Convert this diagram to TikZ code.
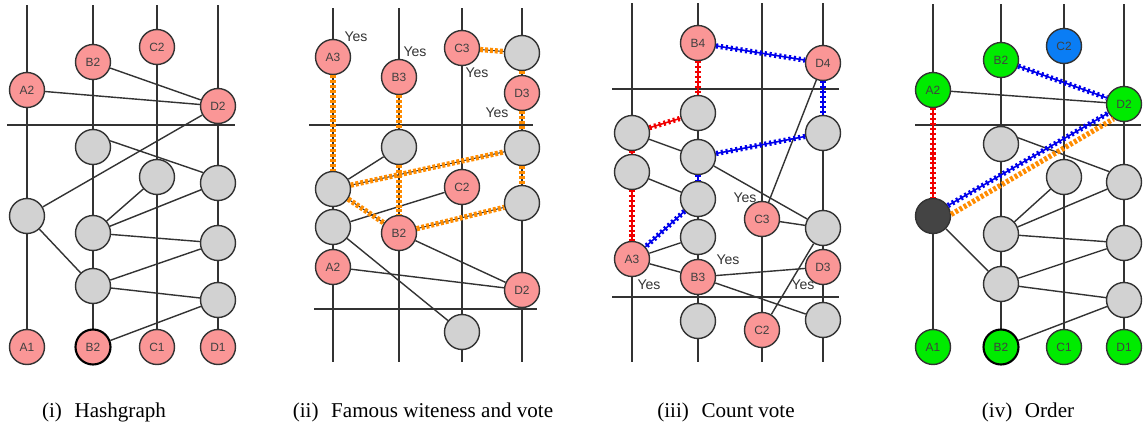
\documentclass[tikz,border=0pt]{standalone}
\usepackage{fontspec}
\setmainfont{Liberation Serif}
\setsansfont{Liberation Sans}
\usetikzlibrary{backgrounds}

\definecolor{evred}{RGB}{250,150,150}
\definecolor{evgray}{RGB}{210,210,210}
\definecolor{evgreen}{RGB}{0,235,0}
\definecolor{evblue}{RGB}{10,125,245}
\definecolor{evdark}{RGB}{68,68,68}
\definecolor{edgec}{RGB}{51,51,51}
\definecolor{vorange}{RGB}{255,140,0}
\definecolor{vred}{RGB}{240,0,0}
\definecolor{vblue}{RGB}{0,0,235}

\tikzset{
  event/.style={circle, draw=edgec, line width=0.8pt, minimum size=0.7cm, inner sep=0pt,
    font=\sffamily\fontsize{6.8}{8}\selectfont, text=black!75},
  redev/.style={event, fill=evred},
  grayev/.style={event, fill=evgray},
  greenev/.style={event, fill=evgreen},
  firstev/.style={draw=black, line width=1.2pt},
  link/.style={draw=edgec, line width=0.8pt},
  vote/.style={draw=#1, line width=0.9pt,
    postaction={draw=#1, line width=3pt, dash pattern=on 1.2pt off 1.6pt}},
  ovote/.style={draw=edgec, line width=0.6pt,
    postaction={draw=vorange, line width=3pt, dash pattern=on 1.7pt off 1.1pt}},
  yes/.style={font=\sffamily\fontsize{8}{9}\selectfont, text=edgec},
  caption/.style={anchor=base, font=\fontsize{12}{14}\selectfont},
}

\begin{document}
\begin{tikzpicture}[x=0.02cm, y=-0.02cm]
  \useasboundingbox (0,0) rectangle (1146,426);

  % (i) hashgraph
  \begin{scope}[name prefix=h-]
    \node[redev] (a2) at (27,90) {A2};
    \node[redev] (b2) at (93,62) {B2};
    \node[redev] (c2) at (157,47) {C2};
    \node[redev] (d2) at (218,106) {D2};
    \node[grayev] (bx) at (93,147) {};
    \node[grayev] (cx) at (157,177) {};
    \node[grayev] (dx) at (218,183) {};
    \node[grayev] (ax) at (27,216) {};
    \node[grayev] (by) at (93,233) {};
    \node[grayev] (dy) at (218,243) {};
    \node[grayev] (bz) at (93,286) {};
    \node[grayev] (dz) at (218,300) {};
    \node[redev] (a1) at (27,347) {A1};
    \node[redev, firstev] (b1) at (93,347) {B2};
    \node[redev] (c1) at (157,347) {C1};
    \node[redev] (d1) at (218,347) {D1};
    \coordinate (ta) at (27,5);
    \coordinate (tb) at (93,5);
    \coordinate (tc) at (157,5);
    \coordinate (td) at (218,5);
    \coordinate (rl) at (7,125);
    \coordinate (rr) at (235,125);
    \begin{pgfonlayer}{background}
      \draw[link] (ta) -- (a1.center);
      \draw[link] (tb) -- (b1.center);
      \draw[link] (tc) -- (c1.center);
      \draw[link] (td) -- (d1.center);
      \draw[link] (rl) -- (rr);
      \draw[link] (b2) -- (d2);
      \draw[link] (a2) -- (d2);
      \draw[link] (d2) -- (ax);
      \draw[link] (bx.20) -- (dx.145);
      \draw[link] (cx) -- (by);
      \draw[link] (dx) -- (by);
      \draw[link] (by) -- (dy);
      \draw[link] (ax) -- (bz);
      \draw[link] (bz) -- (dy);
      \draw[link] (bz) -- (dz);
      \draw[link] (dz) -- (b1);
    \end{pgfonlayer}
  \end{scope}

  % (ii) famous witnesses and their votes
  \begin{scope}[name prefix=f-]
    \node[redev] (a3) at (333,57) {A3};
    \node[redev] (b3) at (399,77) {B3};
    \node[redev] (c3) at (462,48) {C3};
    \node[grayev] (dw) at (522,53) {};
    \node[redev] (d3) at (522,93) {D3};
    \node[grayev] (bx) at (399,147) {};
    \node[grayev] (dx) at (522,148) {};
    \node[grayev] (ax) at (333,189) {};
    \node[redev] (c2) at (462,187) {C2};
    \node[grayev] (dy) at (522,203) {};
    \node[grayev] (ay) at (333,227) {};
    \node[redev] (b2) at (399,233) {B2};
    \node[redev] (a2) at (333,267) {A2};
    \node[redev] (d2) at (522,290) {D2};
    \node[grayev] (cx) at (462,332) {};
    \node[yes] (y1) at (356,37) {Yes};
    \node[yes] (y2) at (415,52) {Yes};
    \node[yes] (y3) at (477,73) {Yes};
    \node[yes] (y4) at (497,113) {Yes};
    \coordinate (ta) at (333,8);
    \coordinate (tb) at (399,8);
    \coordinate (tc) at (462,8);
    \coordinate (td) at (522,8);
    \coordinate (ba) at (333,362);
    \coordinate (bb) at (399,362);
    \coordinate (bc) at (462,362);
    \coordinate (bd) at (522,362);
    \coordinate (rl) at (309,125);
    \coordinate (rr) at (533,125);
    \coordinate (sl) at (314,309);
    \coordinate (sr) at (537,309);
    \begin{pgfonlayer}{background}
      \draw[link] (ta) -- (ba);
      \draw[link] (tb) -- (bb);
      \draw[link] (tc) -- (bc);
      \draw[link] (td) -- (bd);
      \draw[link] (rl) -- (rr);
      \draw[link] (sl) -- (sr);
      \draw[link] (ax) -- (bx);
      \draw[link] (ay) -- (c2);
      \draw[link] (ay) -- (cx);
      \draw[link] (b2) -- (d2);
      \draw[link] (a2) -- (d2);
    \end{pgfonlayer}
    % strongly seen paths
    \draw[ovote] (a3) -- (ax);
    \draw[ovote] (b3) -- (bx);
    \draw[ovote] (bx) -- (b2);
    \draw[ovote] (c3) -- (dw);
    \draw[ovote] (dw) -- (d3);
    \draw[ovote] (d3) -- (dx);
    \draw[ovote] (dx) -- (dy);
    \draw[ovote] (ax) -- (dx);
    \draw[ovote] (ax) -- (b2);
    \draw[ovote] (b2) -- (dy);
  \end{scope}

  % (iii) counting the votes
  \begin{scope}[name prefix=c-]
    \node[redev] (b4) at (698,43) {B4};
    \node[redev] (d4) at (823,63) {D4};
    \node[grayev] (bw) at (698,113) {};
    \node[grayev] (aw) at (632,133) {};
    \node[grayev] (dw) at (823,133) {};
    \node[grayev] (bx) at (698,157) {};
    \node[grayev] (ax) at (632,172) {};
    \node[grayev] (by) at (698,199) {};
    \node[redev] (c3) at (762,219) {C3};
    \node[grayev] (dx) at (823,228) {};
    \node[grayev] (bz) at (698,237) {};
    \node[redev] (a3) at (632,259) {A3};
    \node[redev] (b3) at (698,277) {B3};
    \node[redev] (d3) at (823,267) {D3};
    \node[grayev] (bv) at (698,321) {};
    \node[redev] (c2) at (762,330) {C2};
    \node[grayev] (dv) at (823,320) {};
    \node[yes] (y1) at (745,198) {Yes};
    \node[yes] (y2) at (649,285) {Yes};
    \node[yes] (y3) at (728,260) {Yes};
    \node[yes] (y4) at (803,285) {Yes};
    \coordinate (ta) at (632,3);
    \coordinate (tb) at (698,3);
    \coordinate (tc) at (762,3);
    \coordinate (td) at (823,3);
    \coordinate (ba) at (632,362);
    \coordinate (bb) at (698,362);
    \coordinate (bc) at (762,362);
    \coordinate (bd) at (823,362);
    \coordinate (rl) at (612,89);
    \coordinate (rr) at (839,89);
    \coordinate (sl) at (612,297);
    \coordinate (sr) at (839,297);
    \begin{pgfonlayer}{background}
      \draw[link] (ta) -- (ba);
      \draw[link] (tb) -- (bb);
      \draw[link] (tc) -- (bc);
      \draw[link] (td) -- (bd);
      \draw[link] (rl) -- (rr);
      \draw[link] (sl) -- (sr);
      \draw[link] (aw) -- (bx);
      \draw[link] (ax) -- (by);
      \draw[link] (bx) -- (dx);
      \draw[link] (d4) -- (c3);
      \draw[link] (c3) -- (dx);
      \draw[link] (dx) -- (c2);
      \draw[link] (a3) -- (bz);
      \draw[link] (a3) -- (b3);
      \draw[link] (b3) -- (d3);
      \draw[link] (b3) -- (dv);
    \end{pgfonlayer}
    % votes reaching B4 and D4
    \draw[vote=vred] (b4) -- (bw);
    \draw[vote=vred] (aw) -- (bw);
    \draw[vote=vred] (aw) -- (ax);
    \draw[vote=vred] (ax) -- (a3);
    \draw[vote=vblue] (b4) -- (d4);
    \draw[vote=vblue] (d4) -- (dw);
    \draw[vote=vblue] (dw) -- (bx);
    \draw[vote=vblue] (bx) -- (by);
    \draw[vote=vblue] (by) -- (a3);
  \end{scope}

  % (iv) final order
  \begin{scope}[name prefix=o-]
    \node[greenev] (a2) at (933,90) {A2};
    \node[greenev] (b2) at (1001,60) {B2};
    \node[event, fill=evblue] (c2) at (1064,46) {C2};
    \node[greenev] (d2) at (1124,104) {D2};
    \node[grayev] (bx) at (1001,144) {};
    \node[grayev] (cx) at (1064,177) {};
    \node[grayev] (dx) at (1124,182) {};
    \node[event, fill=evdark] (ax) at (933,216) {};
    \node[grayev] (by) at (1001,234) {};
    \node[grayev] (dy) at (1124,243) {};
    \node[grayev] (bz) at (1001,284) {};
    \node[grayev] (dz) at (1124,300) {};
    \node[greenev] (a1) at (933,347) {A1};
    \node[greenev, firstev] (b1) at (1001,347) {B2};
    \node[greenev] (c1) at (1064,347) {C1};
    \node[greenev] (d1) at (1124,347) {D1};
    \coordinate (ta) at (933,4);
    \coordinate (tb) at (1001,4);
    \coordinate (tc) at (1064,4);
    \coordinate (td) at (1124,4);
    \coordinate (rl) at (915,125);
    \coordinate (rr) at (1141,125);
    \begin{pgfonlayer}{background}
      \draw[link] (ta) -- (a1.center);
      \draw[link] (tb) -- (b1.center);
      \draw[link] (tc) -- (c1.center);
      \draw[link] (td) -- (d1.center);
      \draw[link] (rl) -- (rr);
      \draw[link] (a2) -- (d2);
      \draw[link] (bx.20) -- (dx.145);
      \draw[link] (cx) -- (by);
      \draw[link] (dx) -- (by);
      \draw[link] (by) -- (dy);
      \draw[link] (ax) -- (bz);
      \draw[link] (bz) -- (dy);
      \draw[link] (bz) -- (dz);
      \draw[link] (dz) -- (b1);
    \end{pgfonlayer}
    \draw[vote=vred] (a2) -- (ax);
    \draw[vote=vblue] (b2) -- (d2);
    \draw[vote=vblue] (ax.35) -- (d2.210);
    \draw[ovote, draw=none] (ax.5) -- (d2.235);
  \end{scope}

  % sub-captions
  \node[caption] (cap1) at (104,417) {(i)\hspace{0.6em}Hashgraph};
  \node[caption] (cap2) at (423,417) {(ii)\hspace{0.6em}Famous witeness and vote};
  \node[caption] (cap3) at (726,417) {(iii)\hspace{0.6em}Count vote};
  \node[caption] (cap4) at (1028,417) {(iv)\hspace{0.6em}Order};
\end{tikzpicture}
\end{document}
